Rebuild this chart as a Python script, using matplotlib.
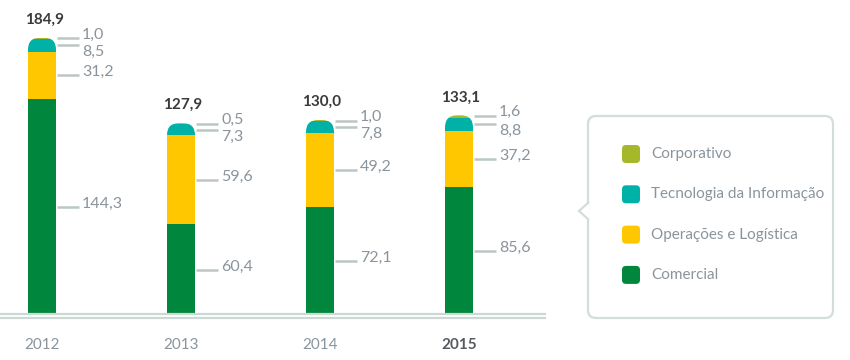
import matplotlib
matplotlib.use("Agg")
import matplotlib.pyplot as plt
from matplotlib.patches import FancyBboxPatch, Polygon

plt.rcParams["font.family"] = ["Lato", "DejaVu Sans"]

years = ["2012", "2013", "2014", "2015"]
comercial = [144.3, 60.4, 72.1, 85.6]
operacoes = [31.2, 59.6, 49.2, 37.2]
tecnologia = [8.5, 7.3, 7.8, 8.8]
corporativo = [1.0, 0.5, 1.0, 1.6]
totais = [184.9, 127.9, 130.0, 133.1]

series = [
    ("Comercial", comercial, "#00873d"),
    ("Operações e Logística", operacoes, "#ffc700"),
    ("Tecnologia da Informação", tecnologia, "#00b1a8"),
    ("Corporativo", corporativo, "#a5b82a"),
]
legend_order = ["Corporativo", "Tecnologia da Informação", "Operações e Logística", "Comercial"]

LABEL = "#8a949c"
LINE = "#bcc7c3"
DARK = "#3a3a3a"

def fmt(v):
    return f"{v:.1f}".replace(".", ",")

fig = plt.figure(figsize=(8.5, 3.6), dpi=100)
# pixel mapping: 1.5 px per unit on y, 139 px per bar step on x
px_x = 139.0
px_y = 1.5
ax = fig.add_axes([0, 0, 1, 1])
ax.set_xlim(-42 / px_x, (850 - 42) / px_x)
ax.set_ylim(-45 / px_y, 315 / px_y)
ax.axis("off")

x = list(range(len(years)))
w = 28 / px_x

for i in x:
    clip = FancyBboxPatch((i - w / 2, -10), w, totais[i] + 10,
                          boxstyle=f"round,pad=0,rounding_size={12 / px_x}",
                          mutation_aspect=px_x / px_y,
                          transform=ax.transData, facecolor="none", edgecolor="none")
    ax.add_patch(clip)
    bottom = 0
    for name, vals, color in series:
        bar = ax.bar(i, vals[i], bottom=bottom, width=w, color=color,
                     edgecolor="none", zorder=3)
        for p in bar:
            p.set_clip_path(clip)
        bottom += vals[i]

# value labels with leader lines
dx0 = w / 2 + 1 / px_x
dx1 = w / 2 + 23 / px_x
dxt = w / 2 + 26 / px_x
for i in x:
    ys = []
    b = 0
    for name, vals, color in series:
        mid = b + vals[i] / 2
        b += vals[i]
        ys.append((name, vals[i], mid))
    for name, v, mid in ys:
        if name == "Corporativo":
            ly = totais[i] - 0.5
            ty = ly + 4 / px_y
        elif name == "Tecnologia da Informação":
            ly = mid
            ty = ly - 7 / px_y
        else:
            ly = mid
            ty = ly + 3 / px_y
        ax.plot([i + dx0, i + dx1], [ly, ly], color=LINE, lw=1.8,
                solid_capstyle="butt", zorder=2)
        ax.text(i + dxt, ty, fmt(v), color=LABEL, fontsize=11.5, va="center",
                ha="left", zorder=4)
    ax.text(i + 2 / px_x, totais[i] + 18 / px_y, fmt(totais[i]), color=DARK,
            fontsize=11, fontweight="bold", ha="center", va="center")
    last = i == len(years) - 1
    ax.text(i, -30 / px_y, years[i], ha="center", va="center", fontsize=11,
            color="#555b60" if last else LABEL,
            fontweight="bold" if last else "normal")

# double baseline
x_end = (545 - 42) / px_x
x_start = -42 / px_x
ax.plot([x_start, x_end], [1 / px_y, 1 / px_y], color="#cbd8d3", lw=1.6, zorder=4)
ax.plot([x_start, x_end], [-3 / px_y, -3 / px_y], color="#cbd8d3", lw=1.6, zorder=4)

# legend box drawn in pixel coordinates
ov = fig.add_axes([0, 0, 1, 1])
ov.set_xlim(0, 850)
ov.set_ylim(360, 0)
ov.axis("off")
ov.patch.set_alpha(0)

box = FancyBboxPatch((588, 116), 245, 202, boxstyle="round,pad=0,rounding_size=8",
                     facecolor="white", edgecolor="#d3ddd9", lw=1.6)
ov.add_patch(box)
ov.add_patch(Polygon([(589, 202), (579, 211), (589, 220)], closed=False,
                     facecolor="white", edgecolor="#d3ddd9", lw=1.6, zorder=3))

colors = {n: c for n, _, c in series}
for k, name in enumerate(legend_order):
    cy = 154 + k * 40.3
    ov.add_patch(FancyBboxPatch((622, cy - 9), 18, 18,
                                boxstyle="round,pad=0,rounding_size=4",
                                facecolor=colors[name], edgecolor="none", zorder=4))
    ov.text(651, cy, name, color=LABEL, fontsize=11, va="center", ha="left", zorder=4)

fig.savefig("out.png", dpi=100)
